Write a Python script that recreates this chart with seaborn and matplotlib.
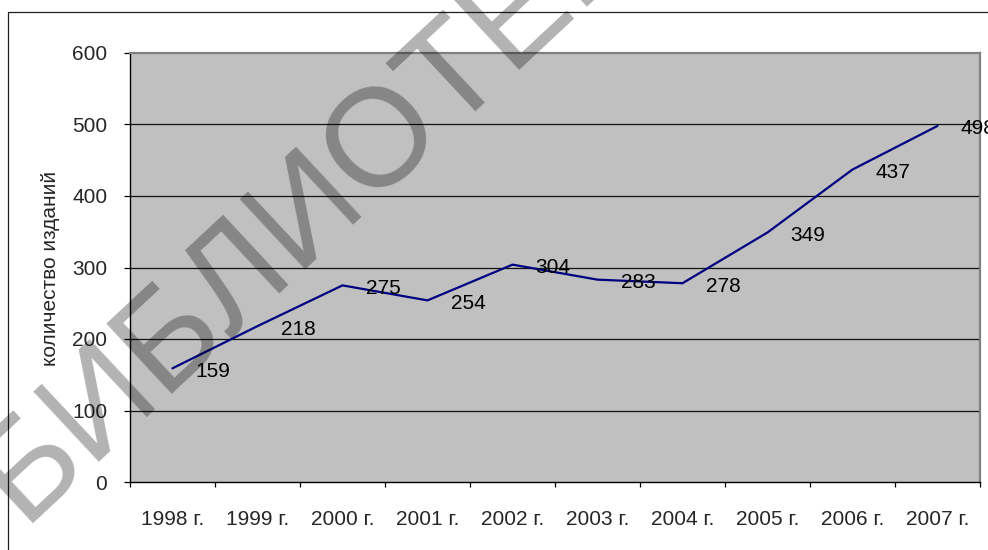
import numpy as np
import pandas as pd
import matplotlib
matplotlib.use("Agg")
import matplotlib.pyplot as plt
import matplotlib.patches as mpatches
from matplotlib.font_manager import FontProperties
import seaborn as sns

years = ["1998 г.", "1999 г.", "2000 г.", "2001 г.", "2002 г.",
         "2003 г.", "2004 г.", "2005 г.", "2006 г.", "2007 г."]
counts = [159, 218, 275, 254, 304, 283, 278, 349, 437, 498]
y_ticks = [0, 100, 200, 300, 400, 500, 600]
y_label = "количество изданий"
watermark = "БИБЛИОТЕКА"

sns.set_theme(style="white")
plt.rcParams["font.family"] = ["Liberation Sans", "DejaVu Sans"]

DPI = 100
W, H = 988, 550
fig = plt.figure(figsize=(W / DPI, H / DPI), dpi=DPI)
fig.patch.set_facecolor("white")

# figure frame (extends beyond right/bottom edge)
frame = mpatches.Rectangle((8 / W, -0.1), 1.2, 1 - 12 / H + 0.1,
                           transform=fig.transFigure, fill=False,
                           edgecolor="#202020", linewidth=0.9, zorder=0)
fig.patches.append(frame)

ax = fig.add_axes([130 / W, 1 - 482 / H, 850 / W, 429 / H])
ax.set_facecolor("#C0C0C0")

df = pd.DataFrame({"pos": np.arange(len(years)), "count": counts, "year": years})
sns.lineplot(data=df, x="pos", y="count", ax=ax, color="#000080",
             linewidth=1.6, zorder=3)

ax.set_xlim(-0.5, len(years) - 0.5)
ax.set_ylim(0, 600)

ax.set_yticks(y_ticks)
ax.set_yticklabels([str(v) for v in y_ticks], fontsize=15)
for v in y_ticks[1:-1]:
    ax.axhline(v, color="#111111", linewidth=0.9, zorder=1)

ax.set_xticks(np.arange(len(years)))
ax.set_xticklabels(years, fontsize=15)
ax.set_xticks(np.arange(len(years) + 1) - 0.5, minor=True)
ax.tick_params(axis="x", which="major", length=0, pad=20)
ax.tick_params(axis="x", which="minor", length=3.6, width=0.9,
               direction="out", color="black", bottom=True)
ax.tick_params(axis="y", which="major", length=4.3, width=0.9,
               direction="out", color="black", pad=12, left=True)

ax.set_xlabel("")
ax.set_ylabel(y_label, fontsize=15)
ax.yaxis.label.set_verticalalignment("center")
ax.yaxis.set_label_coords((51 - 130) / 850, (482 - 268) / 429)

for s in ["left", "bottom"]:
    ax.spines[s].set_color("black")
    ax.spines[s].set_linewidth(1.0)
for s in ["top", "right"]:
    ax.spines[s].set_color("#808080")
    ax.spines[s].set_linewidth(1.6)

for i, v in enumerate(counts):
    ax.annotate(str(v), xy=(i, v), xytext=(16.6, -2.2),
                textcoords="offset points", ha="left", va="center",
                fontsize=15, color="black", zorder=4, annotation_clip=False)

# watermark: place so that the "О" centre sits where it is in the reference
wm_size = 100.0
wm_angle = np.deg2rad(43)
prop = FontProperties(family="Liberation Sans", size=wm_size)
renderer = fig.canvas.get_renderer()
w_pre, _, _ = renderer.get_text_width_height_descent(watermark[:5], prop, ismath=False)
w_o, _, _ = renderer.get_text_width_height_descent(watermark[5], prop, ismath=False)
em = wm_size * DPI / 72
along = w_pre + w_o / 2
up = 0.36 * em
ox, oy = 373.0, H - 127.0  # pixel coords, origin bottom-left
ux, uy = np.cos(wm_angle), np.sin(wm_angle)
nx, ny = -np.sin(wm_angle), np.cos(wm_angle)
ax0 = ox - along * ux - up * nx
ay0 = oy - along * uy - up * ny
fig.text(ax0 / W, ay0 / H, watermark, fontproperties=prop, rotation=43,
         rotation_mode="anchor", ha="left", va="baseline",
         color="black", alpha=0.30, zorder=10)

fig.savefig("out.png", dpi=DPI)
